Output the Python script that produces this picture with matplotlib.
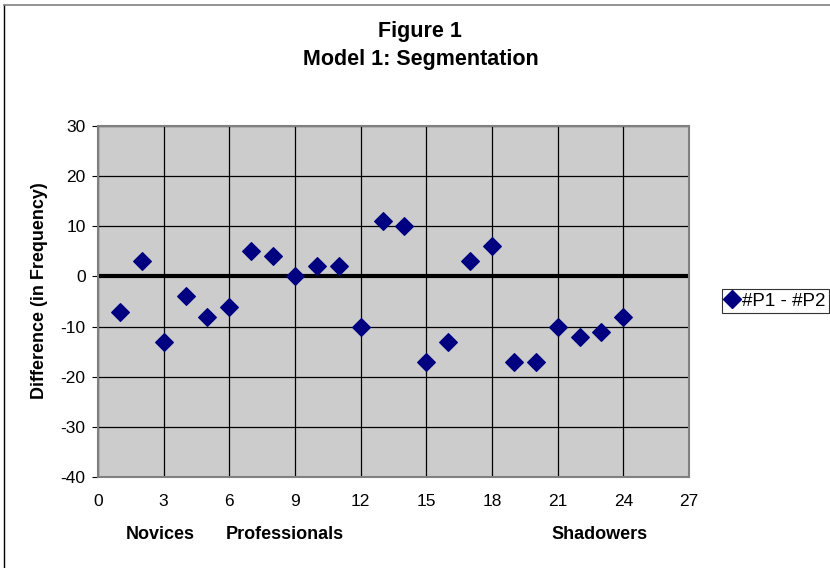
import matplotlib
matplotlib.use("Agg")
import matplotlib.pyplot as plt
from matplotlib.lines import Line2D

plt.rcParams['font.family'] = ['Liberation Sans', 'DejaVu Sans']
plt.rcParams['axes.unicode_minus'] = False

# data
respondents = list(range(1, 25))
diff = [-7, 3, -13, -4, -8, -6, 5, 4, 0, 2, 2, -10,
        11, 10, -17, -13, 3, 6, -17, -17, -10, -12, -11, -8]
x_ticks = [0, 3, 6, 9, 12, 15, 18, 21, 24, 27]
y_ticks = [-40, -30, -20, -10, 0, 10, 20, 30]
groups = ['Novices', 'Professionals', 'Shadowers']
group_x = [2.85, 8.55, 22.9]

fig = plt.figure(figsize=(8.30, 5.68), dpi=100)
ax = fig.add_axes([98 / 830, 1 - 477 / 568, 591 / 830, 351 / 568])
ax.set_facecolor('#cccccc')

ax.set_xlim(0, 27)
ax.set_ylim(-40, 30)
ax.set_xticks(x_ticks)
ax.set_yticks(y_ticks)
ax.grid(True, color='black', linewidth=0.9)
ax.set_axisbelow(True)
ax.axhline(0, color='black', linewidth=3, zorder=2)

ax.scatter(respondents, diff, marker='D', s=80, color='#000080',
           edgecolors='#000080', zorder=3, label='#P1 - #P2')

for s in ax.spines.values():
    s.set_color('#808080')
    s.set_linewidth(1.5)

ax.tick_params(axis='y', length=4, width=0.8, labelsize=12.5, pad=5)
ax.tick_params(axis='x', length=0, labelsize=12.5, pad=12)

ax.set_ylabel('Difference (in Frequency)', fontsize=13, fontweight='bold')
ax.yaxis.set_label_coords(-0.085, 0.53)

for g, gx in zip(groups, group_x):
    ax.text(gx, -51.5, g, ha='center', va='center', fontsize=13,
            fontweight='bold', transform=ax.transData, clip_on=False)

fig.text(420 / 830, 1 - 31 / 568, 'Figure 1', ha='center', va='center',
         fontsize=15.5, fontweight='bold')
fig.text(421 / 830, 1 - 59 / 568, 'Model 1: Segmentation', ha='center', va='center',
         fontsize=15.5, fontweight='bold')

handle = Line2D([], [], marker='D', linestyle='none', color='#000080', markersize=9)
leg = fig.legend([handle], ['#P1 - #P2'], loc='center left',
                 bbox_to_anchor=(722 / 830, 1 - 301 / 568), fontsize=13.5,
                 frameon=True, fancybox=False, handlelength=0.7, handletextpad=0.15,
                 borderpad=0.2, borderaxespad=0)
leg.get_frame().set_edgecolor('black')
leg.get_frame().set_linewidth(0.8)

# outer chart border (left and top visible)
fig.add_artist(Line2D([4 / 830, 4 / 830], [0, 1 - 5 / 568], color='black',
                      linewidth=1, transform=fig.transFigure))
fig.add_artist(Line2D([4 / 830, 1], [1 - 5 / 568, 1 - 5 / 568], color='#808080',
                      linewidth=1.2, transform=fig.transFigure))

fig.savefig('out.png', dpi=100)
